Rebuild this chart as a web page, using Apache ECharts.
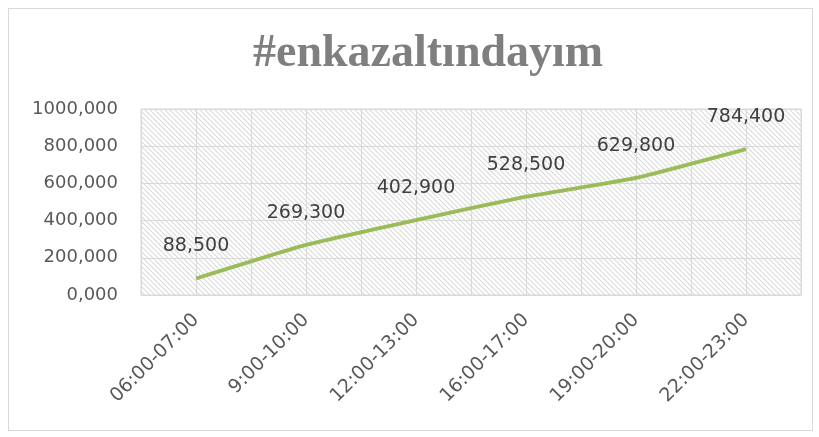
<!DOCTYPE html>
<html>
<head>
<meta charset="utf-8">
<script src="https://cdn.jsdelivr.net/npm/echarts@6/dist/echarts.min.js"></script>
<style>
  html, body { margin: 0; padding: 0; background: #fff; }
  #chart { width: 819px; height: 437px; }
  .frame { position: absolute; left: 8px; top: 8px; width: 803px; height: 421px; border: 1px solid #d9d9d9; pointer-events: none; }
</style>
</head>
<body>
<div id="chart"></div>
<div class="frame"></div>
<script>
// saat aralıkları ve değerler
const categories = ['06:00-07:00', '9:00-10:00', '12:00-13:00', '16:00-17:00', '19:00-20:00', '22:00-23:00']
const values = [88.5, 269.3, 402.9, 528.5, 629.8, 784.4]
const yMax = 1000
const yStep = 200

// yarım kategori aralıklarında dikey çizgiler için
const halfTicks = categories.flatMap(() => ['', ''])

function fmt (v) {
  return Number(v).toFixed(3).replace('.', ',')
}

// taralı arka plan deseni
function hatch () {
  const c = document.createElement('canvas')
  c.width = 5
  c.height = 5
  const ctx = c.getContext('2d')
  ctx.fillStyle = '#ffffff'
  ctx.fillRect(0, 0, 5, 5)
  ctx.strokeStyle = '#dadada'
  ctx.lineWidth = 1.1
  ctx.beginPath()
  ctx.moveTo(-1, -1); ctx.lineTo(6, 6)
  ctx.moveTo(-1, 4); ctx.lineTo(1, 6)
  ctx.moveTo(4, -1); ctx.lineTo(6, 1)
  ctx.stroke()
  return c
}

const chart = echarts.init(document.getElementById('chart'), null, { renderer: 'canvas' })
chart.setOption({
  animation: false,
  title: {
    text: '#enkazaltındayım',
    left: 248,
    top: 26,
    textStyle: {
      fontFamily: 'Liberation Serif',
      fontWeight: 'bold',
      fontSize: 46,
      color: '#7f7f7f'
    }
  },
  grid: {
    left: 141,
    right: 18,
    top: 109,
    bottom: 142,
    show: true,
    backgroundColor: { image: hatch(), repeat: 'repeat' },
    borderColor: '#d9d9d9',
    borderWidth: 1
  },
  xAxis: [{
    type: 'category',
    data: categories,
    boundaryGap: true,
    axisLine: { show: true, lineStyle: { color: '#d9d9d9' } },
    axisTick: { show: false },
    splitLine: { show: false },
    axisLabel: {
      interval: 0,
      rotate: 45,
      margin: 22,
      fontFamily: 'DejaVu Sans',
      fontSize: 19,
      color: '#595959'
    }
  }, {
    type: 'category',
    data: halfTicks,
    position: 'bottom',
    boundaryGap: true,
    axisLine: { show: false },
    axisTick: { show: false },
    axisLabel: { show: false },
    splitLine: { show: true, interval: 0, lineStyle: { color: '#d9d9d9', width: 1 } }
  }],
  yAxis: {
    type: 'value',
    min: 0,
    max: yMax,
    interval: yStep,
    axisLine: { show: false },
    axisTick: { show: false },
    splitLine: { lineStyle: { color: '#d9d9d9', width: 1 } },
    axisLabel: {
      formatter: fmt,
      margin: 23,
      fontFamily: 'DejaVu Sans',
      fontSize: 18,
      color: '#595959'
    }
  },
  series: [{
    type: 'line',
    data: values,
    smooth: 0.15,
    symbol: 'circle',
    symbolSize: 1,
    itemStyle: { opacity: 0 },
    lineStyle: { color: '#9bbb59', width: 3.8 },
    label: {
      show: true,
      position: 'top',
      distance: 22,
      opacity: 1,
      formatter: p => fmt(p.value),
      fontFamily: 'DejaVu Sans',
      fontSize: 19,
      color: '#404040'
    }
  }]
})
</script>
</body>
</html>
